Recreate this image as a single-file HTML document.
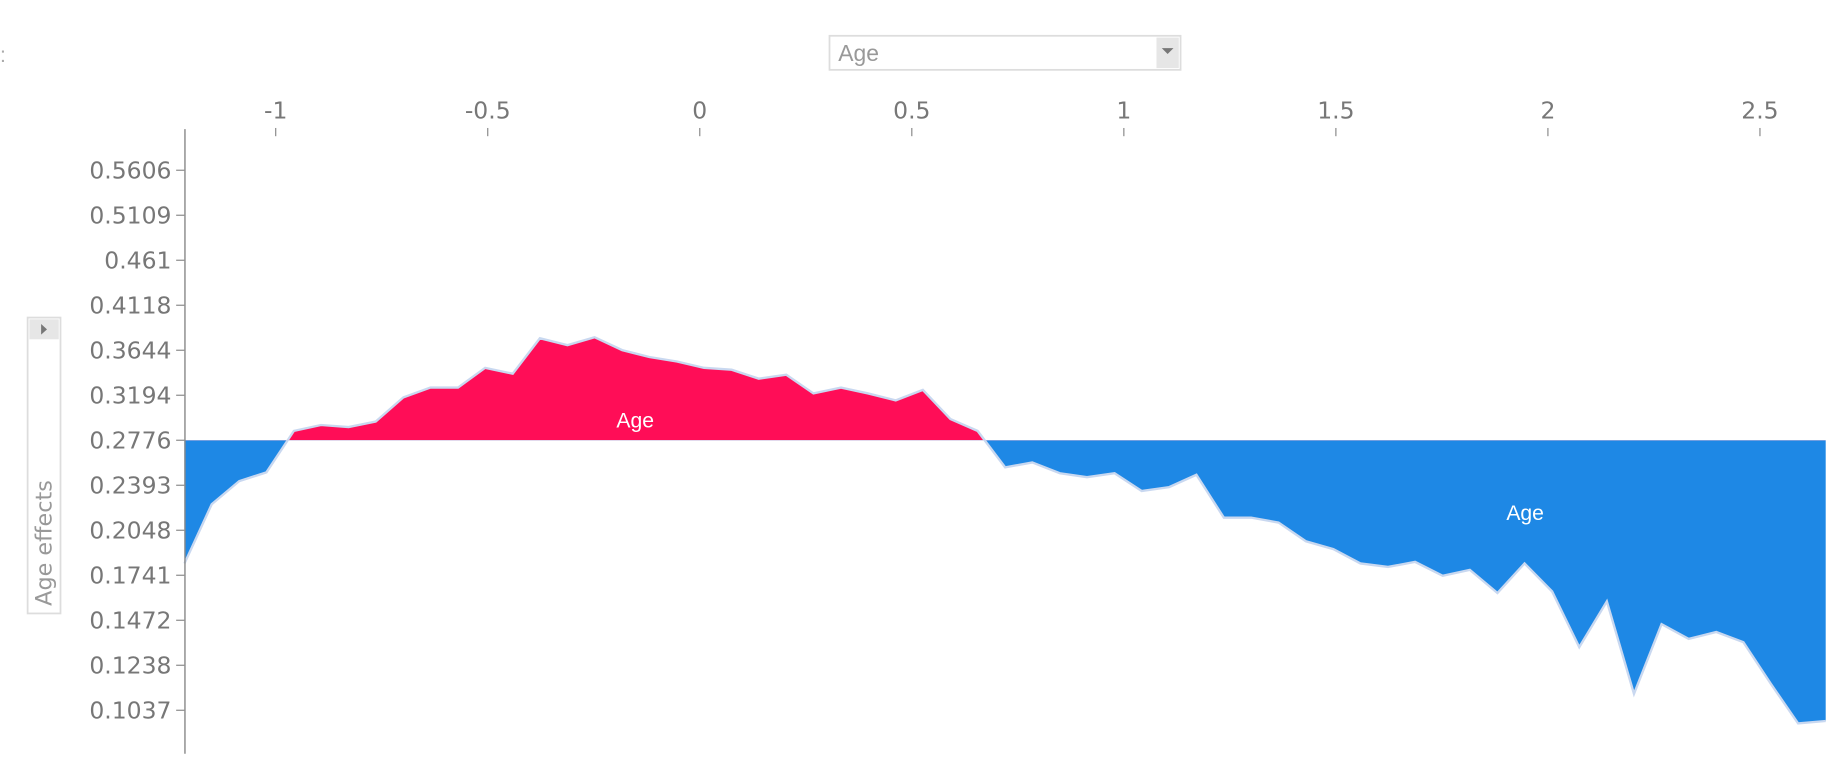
<!DOCTYPE html>
<html><head><meta charset="utf-8"><style>
html,body{margin:0;padding:0;background:#fff;width:1841px;height:773px;overflow:hidden}
svg{display:block}
text{font-family:"Liberation Sans","DejaVu Sans",sans-serif}
.tick{font-family:"DejaVu Sans","Liberation Sans",sans-serif}
</style></head><body>
<svg id="chart" width="1841" height="773" viewBox="0 0 1568 658.4" xmlns="http://www.w3.org/2000/svg">
<text x="2" y="-2" font-size="18" fill="#777">. . .</text>
<text x="0" y="53" font-size="18" fill="#aaa">:</text>
<g>
<rect x="706.5" y="30.5" width="299" height="29" fill="#fff" stroke="#ddd" stroke-width="1.5"/>
<text x="714" y="52" font-size="19.5" fill="#999">Age</text>
<rect x="985" y="32" width="19" height="26" fill="#e6e6e6"/>
<path d="M989.5 41 L999.5 41 L994.5 46 Z" fill="#777"/>
</g>
<g>
<rect x="23.5" y="270.5" width="28" height="252" fill="#fff" stroke="#ddd" stroke-width="1.5"/>
<rect x="25" y="272" width="25" height="17" fill="#e6e6e6"/>
<path d="M35 276 L35 285 L40 280.5 Z" fill="#777"/>
<text class="tick" transform="translate(44,516) rotate(-90)" font-size="19" fill="#999">Age effects</text>
</g>
<g id="plot"></g>
</svg>
<script>
const xValues=[-1.215,-1.151,-1.086,-1.022,-0.957,-0.893,-0.828,-0.764,-0.699,-0.635,-0.570,-0.506,-0.441,-0.377,-0.312,-0.248,-0.183,-0.119,-0.054,0.010,0.075,0.139,0.204,0.268,0.333,0.397,0.462,0.526,0.591,0.655,0.720,0.784,0.849,0.913,0.978,1.042,1.107,1.171,1.236,1.300,1.365,1.429,1.494,1.558,1.623,1.687,1.752,1.816,1.881,1.945,2.010,2.074,2.139,2.203,2.268,2.332,2.397,2.461,2.526,2.590,2.655];
const effectValues=[0.1822,0.2247,0.2428,0.2503,0.2863,0.2918,0.2899,0.2950,0.3174,0.3271,0.3271,0.3468,0.3409,0.3770,0.3698,0.3781,0.3645,0.3576,0.3532,0.3468,0.3449,0.3360,0.3399,0.3212,0.3271,0.3212,0.3147,0.3247,0.2973,0.2863,0.2545,0.2587,0.2495,0.2462,0.2495,0.2349,0.2379,0.2482,0.2145,0.2145,0.2107,0.1973,0.1919,0.1822,0.1798,0.1832,0.1738,0.1778,0.1635,0.1822,0.1644,0.1332,0.1585,0.1110,0.1452,0.1375,0.1411,0.1358,0.1154,0.0978,0.0989];
const xTicks=[-1,-0.5,0,0.5,1,1.5,2,2.5];
const yTicks=[0.5606,0.5109,0.461,0.4118,0.3644,0.3194,0.2776,0.2393,0.2048,0.1741,0.1472,0.1238,0.1037];
const baseline=0.2776;

const NS='http://www.w3.org/2000/svg';
const X0=596,XS=361.2,YTOP=145,YSTEP=38.33,PLOTL=157,PLOTR=1555;
function xScale(v){return X0+v*XS;}
function yScale(v){
  for(let i=0;i<yTicks.length-1;i++){
    const a=yTicks[i],b=yTicks[i+1];
    if(v>=b||i===yTicks.length-2){return YTOP+YSTEP*(i+(a-v)/(a-b));}
  }
  return YTOP;
}
function mk(t,at){const e=document.createElementNS(NS,t);for(const k in at)e.setAttribute(k,at[k]);return e;}
const g=document.getElementById('plot');
const by=yScale(baseline);
const pts=xValues.map((x,i)=>[xScale(x),yScale(effectValues[i])]);
const poly='M'+PLOTL+','+by+' '+pts.map(p=>'L'+p[0].toFixed(1)+','+p[1].toFixed(1)).join(' ')+' L'+PLOTR+','+by+' Z';
const defs=mk('defs',{});
const c1=mk('clipPath',{id:'above'});c1.appendChild(mk('rect',{x:0,y:0,width:1568,height:by}));
const c2=mk('clipPath',{id:'below'});c2.appendChild(mk('rect',{x:0,y:by,width:1568,height:700}));
defs.appendChild(c1);defs.appendChild(c2);g.appendChild(defs);
const red=mk('path',{d:poly,fill:'#ff0d57','clip-path':'url(#above)'});


g.appendChild(red);
const blue=mk('path',{d:poly,fill:'#1e88e5','clip-path':'url(#below)'});


g.appendChild(blue);
const line=mk('path',{d:'M'+pts.map(p=>p[0].toFixed(1)+','+p[1].toFixed(1)).join(' L'),fill:'none',stroke:'#c9d8f0','stroke-width':2});


g.appendChild(line);
const l1=mk('text',{x:541,y:364,'font-size':18,fill:'#fff','text-anchor':'middle'});l1.textContent='Age';


g.appendChild(l1);
const l2=mk('text',{x:1299,y:443,'font-size':18,fill:'#fff','text-anchor':'middle'});l2.textContent='Age';


g.appendChild(l2);
const ya=mk('line',{x1:157.5,y1:110,x2:157.5,y2:642,stroke:'#888','stroke-width':1.2});


g.appendChild(ya);
yTicks.forEach(v=>{
  const y=yScale(v);
  const t=mk('line',{x1:150,y1:y,x2:157,y2:y,stroke:'#888','stroke-width':1});
  
  
  g.appendChild(t);
  const tx=mk('text',{x:146,y:y+7,'font-size':20,fill:'#777','text-anchor':'end','class':'tick'});tx.textContent=String(v);
  
  
  g.appendChild(tx);
});
xTicks.forEach(v=>{
  const x=xScale(v);
  const t=mk('line',{x1:x,y1:109,x2:x,y2:116,stroke:'#888','stroke-width':1});
  
  
  g.appendChild(t);
  const tx=mk('text',{x:x,y:101,'font-size':20,fill:'#777','text-anchor':'middle','class':'tick'});tx.textContent=String(v);
  
  
  g.appendChild(tx);
});
</script>
</body></html>
